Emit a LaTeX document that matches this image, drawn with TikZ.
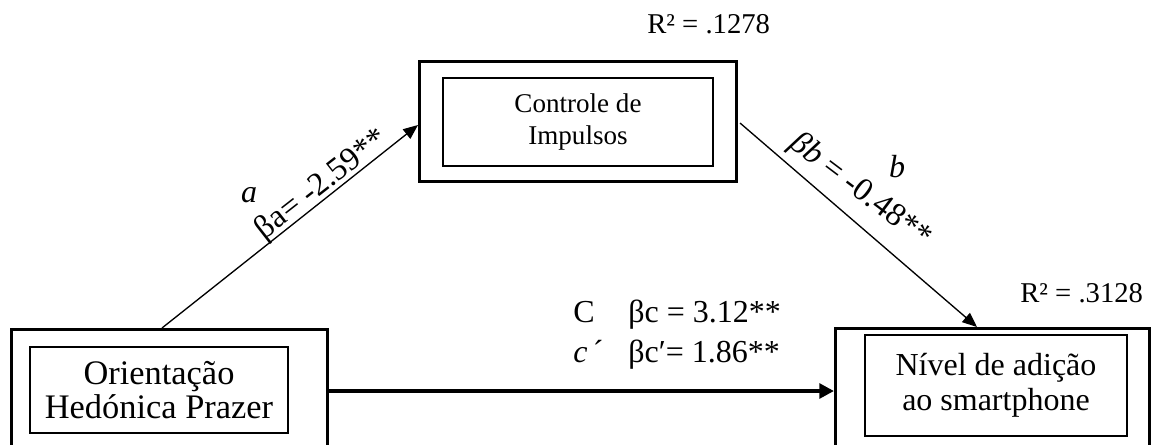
\documentclass[tikz,border=0pt]{standalone}
\usepackage{fontspec}
\setmainfont{Liberation Serif}
\usetikzlibrary{arrows.meta,calc}
\tikzset{
  outerbox/.style={draw, line width=2.25pt, inner sep=0pt, anchor=north west},
  innerbox/.style={draw, line width=1pt, inner sep=0pt, align=center},
  path/.style={line width=1pt, -{Triangle[length=11pt,width=9pt]}},
  thickpath/.style={line width=3pt, -{Triangle[length=11pt,width=11pt]}},
  lbl/.style={inner sep=0pt, font=\fontsize{24.5pt}{28pt}\selectfont},
  clbl/.style={inner sep=0pt, anchor=base west, font=\fontsize{24pt}{28pt}\selectfont},
  rlbl/.style={inner sep=0pt, anchor=base west, font=\fontsize{21.5pt}{25pt}\selectfont},
}
\begin{document}
\begin{tikzpicture}[x=0.75pt, y=-0.75pt]
\clip (0,0) rectangle (1151,444);
\fill[white] (0,0) rectangle (1151,444);
% outer boxes
\node[outerbox, minimum width=316*0.75pt, minimum height=150*0.75pt] (lo) at (10,328) {};
\node[outerbox, minimum width=317*0.75pt, minimum height=120*0.75pt] (to) at (418,60) {};
\node[outerbox, minimum width=314*0.75pt, minimum height=150*0.75pt] (ro) at (834,327) {};
% inner boxes
\node[innerbox, minimum width=258*0.75pt, minimum height=86*0.75pt,
      font=\fontsize{25.8pt}{25.5pt}\selectfont] (li) at (159,390) {Orientação\\Hedónica Prazer};
\node[innerbox, minimum width=270*0.75pt, minimum height=88*0.75pt,
      font=\fontsize{20.3pt}{24pt}\selectfont] (ti) at (578,122) {Controle de\\Impulsos};
\node[innerbox, minimum width=262*0.75pt, minimum height=101*0.75pt,
      font=\fontsize{24pt}{26.25pt}\selectfont] (ri) at (996,385.5) {Nível de adição\\ao smartphone};
% connectors
\draw[path] ($(lo.north west)+(152,0)$) -- ($(to.north west)+(0,65)$);
\draw[path] ($(to.north east)+(2,63)$) -- ($(ro.north west)+(143,0)$);
\draw[thickpath] ($(lo.north east)+(0,63)$) -- ($(ro.north west)+(0,64)$);
% labels
\node[lbl, font=\fontsize{24pt}{28pt}\itshape] (la) at (249,195) {a};
\node[lbl, rotate=38] (lba) at (322,185) {βa= -2.59**};
\node[lbl, font=\fontsize{24pt}{28pt}\itshape] (lb) at (897,167) {b};
\node[lbl, rotate=-37] (lbb) at (860,191) {{\itshape βb} = -0.48**};
\node[clbl] (lc) at (573,322) {C};
\node[clbl] (lbc) at (628,322) {βc = 3.12**};
\node[clbl] (lcp) at (573,362) {{\itshape c}\,´};
\node[clbl] (lbcp) at (628,362) {βc′= 1.86**};
\node[rlbl] (r1) at (647,33) {R² = .1278};
\node[rlbl] (r2) at (1020,302) {R² = .3128};
\end{tikzpicture}
\end{document}
